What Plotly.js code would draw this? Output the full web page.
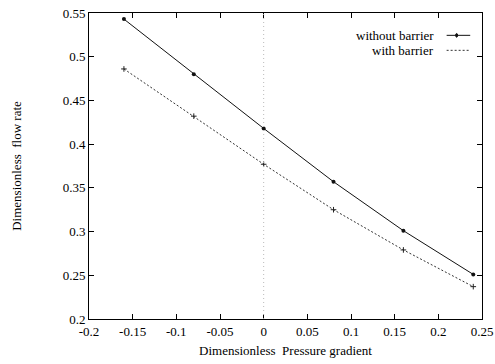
<!DOCTYPE html>
<html>
<head>
<meta charset="utf-8">
<script src="https://cdn.plot.ly/plotly-3.0.1.min.js"></script>
<style>
  html, body { margin: 0; padding: 0; background: #fff; }
  #chart { width: 495px; height: 364px; }
</style>
</head>
<body>
<div id="chart"></div>
<script>
// Dimensionless pressure gradient (x) and flow rate (y) for the two cases
const pressureGradient = [-0.16, -0.08, 0, 0.08, 0.16, 0.24];
const flowWithoutBarrier = [0.543, 0.480, 0.418, 0.357, 0.301, 0.251];
const flowWithBarrier = [0.486, 0.432, 0.377, 0.325, 0.279, 0.237];

const xTickVals = [-0.2, -0.15, -0.1, -0.05, 0, 0.05, 0.1, 0.15, 0.2, 0.25];
const xTickText = ["-0.2", "-0.15", "-0.1", "-0.05", "0", "0.05", "0.1", "0.15", "0.2", "0.25"];
const yTickVals = [0.2, 0.25, 0.3, 0.35, 0.4, 0.45, 0.5, 0.55];
const yTickText = ["0.2", "0.25", "0.3", "0.35", "0.4", "0.45", "0.5", "0.55"];

const seriesNames = ["without barrier", "with barrier"];

const font = { family: "Liberation Serif, Times New Roman, serif", size: 13, color: "#000" };

const traces = [
  {
    x: pressureGradient, y: flowWithoutBarrier, name: seriesNames[0],
    mode: "lines+markers", showlegend: false,
    line: { color: "#111", width: 1 },
    marker: { symbol: "circle", size: 4, color: "#111" }
  },
  {
    x: pressureGradient, y: flowWithBarrier, name: seriesNames[1],
    mode: "lines+markers", showlegend: false,
    line: { color: "#333", width: 1, dash: "2px,2px" },
    marker: { symbol: "cross-thin", size: 4, color: "#222", line: { width: 1, color: "#222" } }
  }
];

const axisCommon = {
  showgrid: false, zeroline: false,
  showline: true, linecolor: "#000", linewidth: 1, mirror: "ticks",
  ticks: "inside", ticklen: 5, tickwidth: 1, tickcolor: "#000",
  tickfont: font
};

// legend drawn as right-aligned labels with the line sample to their right
const legendY = [0.927, 0.878];
const annotations = seriesNames.map((name, i) => ({
  text: name, xref: "paper", yref: "paper", x: 0.883, y: legendY[i],
  xanchor: "right", yanchor: "middle", showarrow: false, font: font
}));
const shapes = [
  { type: "line", xref: "x", yref: "paper", x0: 0, x1: 0, y0: 0, y1: 1,
    line: { color: "#bbb", width: 1, dash: "1px,3px" } },
  { type: "line", xref: "paper", yref: "paper", x0: 0.91, x1: 0.97, y0: legendY[0], y1: legendY[0],
    line: { color: "#111", width: 1 } },
  { type: "circle", xref: "paper", yref: "paper", x0: 0.933, x1: 0.938, y0: legendY[0] - 0.006, y1: legendY[0] + 0.006,
    fillcolor: "#111", line: { color: "#111", width: 1 } },
  { type: "line", xref: "paper", yref: "paper", x0: 0.91, x1: 0.97, y0: legendY[1], y1: legendY[1],
    line: { color: "#333", width: 1, dash: "2px,2px" } }
];

const layout = {
  width: 495, height: 364,
  margin: { l: 89, r: 13, t: 13, b: 45 },
  paper_bgcolor: "#fff", plot_bgcolor: "#fff",
  font: font,
  showlegend: false,
  xaxis: Object.assign({}, axisCommon, {
    range: [-0.2, 0.25], tickvals: xTickVals, ticktext: xTickText,
    title: { text: "Dimensionless&nbsp; Pressure gradient", font: font, standoff: 8 }
  }),
  yaxis: Object.assign({}, axisCommon, {
    range: [0.2, 0.55], tickvals: yTickVals, ticktext: yTickText,
    title: { text: "Dimensionless&nbsp; flow rate", font: font, standoff: 38 }
  }),
  annotations: annotations,
  shapes: shapes
};

Plotly.newPlot("chart", traces, layout, { staticPlot: true, displayModeBar: false });
</script>
</body>
</html>
